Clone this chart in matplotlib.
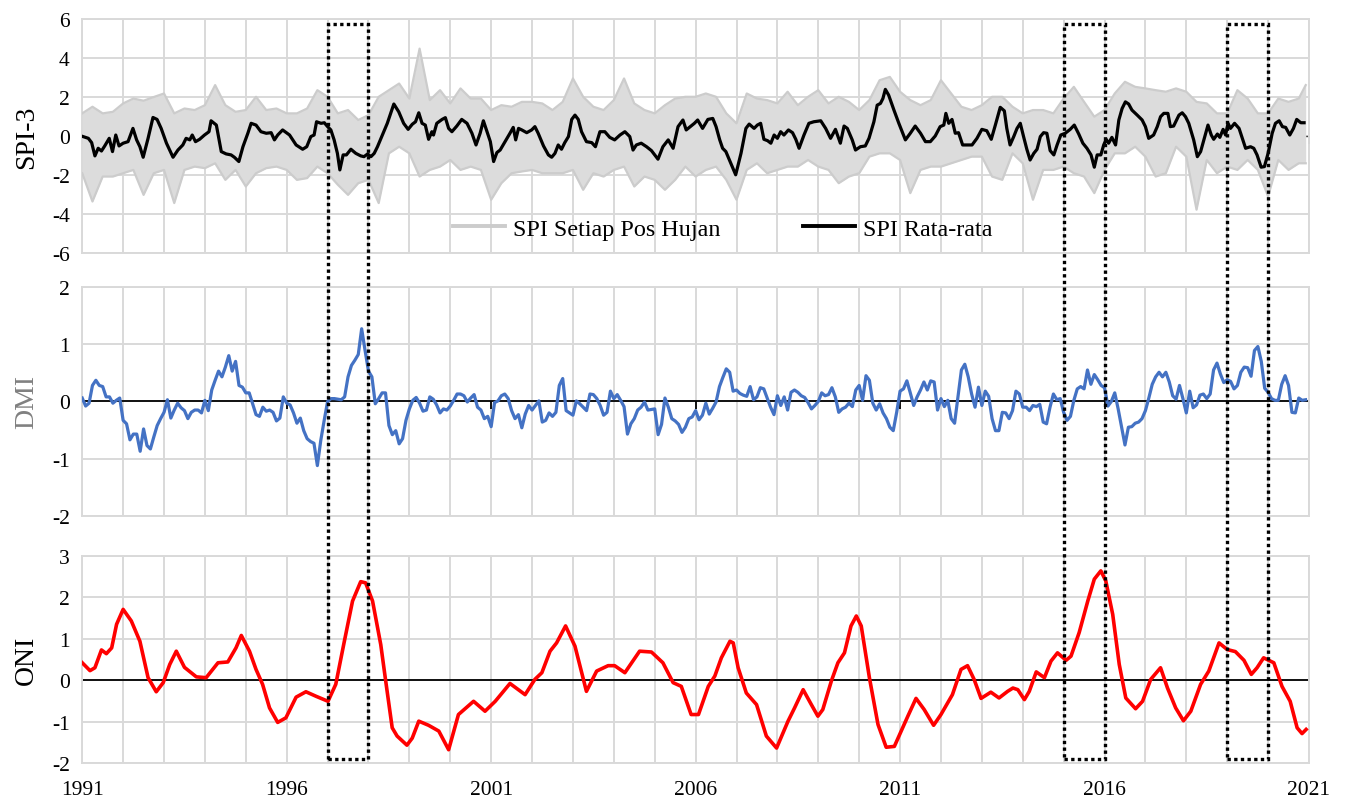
import matplotlib
matplotlib.use("Agg")
import matplotlib.pyplot as plt
import numpy as np
from matplotlib.patches import Rectangle

plt.rcParams['font.family'] = ['Liberation Serif', 'DejaVu Serif']
plt.rcParams['axes.unicode_minus'] = False

# ---- SPI-3 : range of the station series (read as upper / lower edge, quarterly) ----
spi_env_year = list(np.arange(1991, 2021, 0.25)) + [2020.92]
spi_station_hi = [
    1.16, 1.50, 1.16, 1.24, 1.67, 1.92, 1.81, 2.00, 2.18, 1.16, 1.41, 1.33, 1.58, 2.61, 1.58,
    1.24, 1.33, 2.01, 1.33, 1.41, 1.16, 1.16, 1.41, 2.35, 2.01, 1.16, 1.33, 0.82, 1.07,
    2.01, 2.35, 2.69, 1.92, 4.48, 1.84, 2.35, 1.67, 2.44, 1.92, 1.92, 1.33, 1.58, 1.50, 1.75,
    1.75, 1.67, 1.33, 1.75, 2.95, 2.01, 1.50, 1.33, 1.84, 2.95, 1.67, 1.33, 1.16, 1.58, 1.92, 2.01,
    2.01, 2.18, 2.01, 1.16, 0.65, 2.18, 1.92, 1.84, 1.67, 2.27, 1.58, 2.01, 2.35, 1.67, 2.01,
    1.75, 1.33, 1.84, 2.86, 3.03, 2.27, 1.84, 1.58, 1.84, 2.86, 2.18, 1.50, 1.33, 1.58, 2.01,
    2.01, 1.50, 1.16, 1.33, 1.33, 1.16, 1.92, 2.52, 1.75, 0.99, 1.33, 2.18, 2.78, 2.52, 2.44,
    2.35, 2.27, 2.44, 2.27, 1.75, 1.67, 1.16, 1.16, 2.35, 1.92, 1.16, 1.16, 1.92, 1.75, 1.92,
    2.61]
spi_station_lo = [
    -1.91, -3.36, -2.08, -2.08, -1.91, -1.74, -3.02, -1.91, -1.74, -3.44, -1.74, -1.57, -1.65, -1.40, -2.25,
    -1.74, -2.59, -1.91, -1.65, -1.57, -1.74, -2.25, -2.16, -1.57, -1.91, -2.50, -3.02, -2.42, -2.25,
    -3.44, -0.89, -0.55, -0.89, -2.08, -1.74, -1.57, -1.23, -1.74, -1.57, -1.74, -3.27, -2.42, -1.91, -1.82,
    -1.74, -1.91, -1.91, -1.91, -1.74, -2.76, -1.91, -2.08, -1.74, -1.57, -2.59, -2.08, -2.25, -2.76, -2.25, -1.57,
    -2.08, -1.74, -1.57, -2.25, -3.27, -1.74, -1.40, -1.91, -1.74, -1.57, -1.57, -1.23, -1.57, -1.74, -2.42,
    -2.08, -1.91, -1.06, -0.89, -0.89, -1.23, -2.93, -1.74, -1.57, -1.57, -1.40, -1.23, -1.06, -1.06, -2.08,
    -2.25, -0.89, -1.40, -3.27, -1.74, -1.74, -1.57, -1.91, -2.08, -2.93, -1.74, -0.89, -0.89, -0.55, -1.06,
    -2.08, -1.91, -0.55, -1.06, -3.78, -1.23, -1.91, -1.57, -1.74, -1.23, -1.74, -3.10, -1.23, -1.74, -1.40,
    -1.40]

# ---- SPI-3 : average of all stations ----
spi_mean_year = [
    1991.02, 1991.15, 1991.23, 1991.31, 1991.39, 1991.47, 1991.55, 1991.66, 1991.74, 1991.82, 1991.90,
    1992.00, 1992.12, 1992.24, 1992.33, 1992.41, 1992.49, 1992.61, 1992.73, 1992.83, 1992.93,
    1993.06, 1993.22, 1993.34, 1993.46, 1993.54, 1993.63, 1993.69, 1993.77, 1993.87, 1993.99,
    1994.10, 1994.15, 1994.28, 1994.40, 1994.52, 1994.64, 1994.72, 1994.83, 1994.93,
    1995.05, 1995.13, 1995.25, 1995.37, 1995.50, 1995.62, 1995.70, 1995.78, 1995.90,
    1996.07, 1996.23, 1996.39, 1996.49, 1996.59, 1996.67, 1996.73, 1996.84, 1996.92,
    1997.00, 1997.08, 1997.16, 1997.24, 1997.30, 1997.38, 1997.46, 1997.57, 1997.69, 1997.81, 1997.89, 1997.98,
    1998.06, 1998.14, 1998.22, 1998.33, 1998.46, 1998.62, 1998.74, 1998.86, 1998.97,
    1999.07, 1999.15, 1999.23, 1999.31, 1999.39, 1999.47, 1999.55, 1999.59, 1999.67, 1999.80, 1999.88, 1999.96,
    2000.04, 2000.16, 2000.28, 2000.41, 2000.53, 2000.63, 2000.73, 2000.81, 2000.89, 2000.98,
    2001.06, 2001.14, 2001.22, 2001.34, 2001.46, 2001.54, 2001.60, 2001.67, 2001.75, 2001.87, 2001.99,
    2002.07, 2002.15, 2002.28, 2002.40, 2002.48, 2002.56, 2002.64, 2002.72, 2002.80, 2002.89, 2002.97,
    2003.05, 2003.13, 2003.21, 2003.33, 2003.46, 2003.55, 2003.66, 2003.78, 2003.90,
    2004.02, 2004.15, 2004.27, 2004.39, 2004.47, 2004.55, 2004.67, 2004.80, 2004.92,
    2005.08, 2005.20, 2005.33, 2005.45, 2005.57, 2005.69, 2005.77, 2005.97,
    2006.05, 2006.17, 2006.30, 2006.42, 2006.50, 2006.59, 2006.66, 2006.74, 2006.86, 2006.98,
    2007.11, 2007.23, 2007.31, 2007.43, 2007.51, 2007.59, 2007.67, 2007.76, 2007.84, 2007.92,
    2008.00, 2008.08, 2008.16, 2008.27, 2008.37, 2008.45, 2008.53, 2008.65, 2008.77, 2008.89,
    2009.06, 2009.18, 2009.30, 2009.42, 2009.54, 2009.63, 2009.71, 2009.83, 2009.91,
    2010.03, 2010.15, 2010.24, 2010.36, 2010.44, 2010.52, 2010.58, 2010.64, 2010.72, 2010.85, 2010.97,
    2011.13, 2011.25, 2011.37, 2011.50, 2011.62, 2011.74, 2011.86, 2011.98,
    2012.07, 2012.12, 2012.19, 2012.27, 2012.35, 2012.43, 2012.53, 2012.63, 2012.76, 2012.88,
    2013.00, 2013.12, 2013.23, 2013.33, 2013.45, 2013.55, 2013.61, 2013.69, 2013.78, 2013.86, 2013.94,
    2014.02, 2014.10, 2014.18, 2014.27, 2014.35, 2014.43, 2014.51, 2014.59, 2014.67, 2014.76, 2014.84, 2014.93,
    2015.04, 2015.16, 2015.26, 2015.37, 2015.47, 2015.57, 2015.67, 2015.75, 2015.82, 2015.91, 2015.98,
    2016.04, 2016.10, 2016.18, 2016.27, 2016.35, 2016.43, 2016.51, 2016.59, 2016.67, 2016.80, 2016.92,
    2017.00, 2017.08, 2017.20, 2017.29, 2017.37, 2017.45, 2017.55, 2017.61, 2017.69, 2017.82, 2017.90, 2017.98,
    2018.06, 2018.18, 2018.27, 2018.35, 2018.43, 2018.53, 2018.61, 2018.67, 2018.76, 2018.82, 2018.90, 2018.96,
    2019.02, 2019.08, 2019.18, 2019.29, 2019.37, 2019.45, 2019.57, 2019.65, 2019.73, 2019.83, 2019.91,
    2020.00, 2020.10, 2020.18, 2020.27, 2020.35, 2020.43, 2020.53, 2020.62, 2020.70, 2020.80, 2020.88]
spi_mean = [
    -0.03, -0.12, -0.34, -1.02, -0.63, -0.77, -0.51, -0.12, -0.80, 0.05, -0.51,
    -0.37, -0.29, 0.39, -0.20, -0.55, -1.09, -0.12, 0.95, 0.85, 0.39,
    -0.37, -1.09, -0.72, -0.46, -0.12, -0.20, 0.05, -0.29, -0.17, 0.05,
    0.22, 0.78, 0.56, -0.80, -0.92, -0.97, -1.09, -1.31, -0.55,
    0.14, 0.65, 0.56, 0.22, 0.14, 0.17, -0.20, 0.05, 0.31,
    0.05, -0.46, -0.68, -0.55, -0.03, 0.05, 0.73, 0.65, 0.68,
    0.48, 0.31, -0.20, -0.89, -1.74, -0.97, -0.97, -0.68, -0.89, -1.02, -1.06, -0.92,
    -1.06, -0.89, -0.55, 0.00, 0.65, 1.64, 1.24, 0.65, 0.34,
    0.60, 0.73, 1.19, 0.65, 0.56, -0.17, 0.22, 0.05, 0.65, 0.85, 0.94, 0.39,
    0.22, 0.51, 0.85, 0.65, 0.14, -0.46, 0.14, 0.78, 0.27, -0.29,
    -1.31, -0.85, -0.72, -0.29, 0.14, 0.44, -0.20, 0.39, 0.31, 0.17, 0.31,
    0.48, 0.14, -0.51, -0.97, -1.09, -0.89, -0.46, -0.68, -0.34, -0.03, 0.85,
    1.07, 0.85, 0.22, -0.29, -0.34, -0.55, 0.22, 0.22, -0.07,
    -0.20, 0.05, 0.22, -0.03, -0.72, -0.46, -0.37, -0.55, -0.75,
    -1.19, -0.55, -0.20, -0.63, 0.48, 0.82, 0.31, 0.65,
    0.82, 0.39, 0.85, 0.90, 0.48, -0.20, -0.63, -0.80, -1.40, -1.99,
    -0.89, 0.39, 0.61, 0.39, 0.56, 0.65, -0.17, -0.24, -0.37, 0.05,
    -0.12, 0.22, 0.05, 0.31, 0.17, -0.17, -0.63, 0.05, 0.65, 0.73,
    0.78, 0.39, -0.12, 0.34, -0.37, 0.51, 0.39, -0.20, -0.72,
    -0.55, -0.51, -0.12, 0.73, 1.58, 1.67, 1.92, 2.39, 2.10, 1.33, 0.65,
    -0.20, 0.14, 0.51, 0.14, -0.29, -0.29, 0.00, 0.48,
    0.56, 1.16, 0.65, 0.85, 0.14, 0.17, -0.46, -0.46, -0.46, -0.12,
    0.34, 0.27, -0.17, 0.56, 1.47, 1.29, 0.39, -0.46, -0.03, 0.39, 0.65,
    -0.03, -0.68, -1.23, -0.89, -0.68, -0.03, 0.17, 0.14, -0.75, -0.97, -0.46, 0.05,
    0.14, 0.34, 0.56, 0.10, -0.37, -0.63, -0.97, -1.60, -0.97, -0.97, -0.46,
    -0.17, -0.37, -0.07, -0.46, 0.82, 1.41, 1.75, 1.64, 1.33, 1.07, 0.82,
    0.48, -0.12, 0.05, 0.48, 0.99, 1.16, 1.16, 0.48, 0.51, 1.07, 1.19, 0.99,
    0.65, -0.20, -1.06, -0.80, -0.20, 0.56, 0.05, -0.17, 0.10, -0.07, 0.34, 0.05,
    0.65, 0.39, 0.65, 0.39, -0.12, -0.63, -0.55, -0.63, -0.97, -1.60, -1.57,
    -0.89, 0.14, 0.65, 0.78, 0.48, 0.44, 0.05, 0.39, 0.85, 0.68, 0.68]

# ---- DMI, monthly Jan 1991 - Dec 2020 ----
dmi = [
    0.06, -0.08, -0.03, 0.28, 0.37, 0.28, 0.26, 0.08, 0.08, -0.03, 0.02, 0.06,        # 1991
    -0.33, -0.39, -0.67, -0.57, -0.57, -0.87, -0.48, -0.77, -0.83, -0.62, -0.42, -0.30,  # 1992
    -0.19, 0.03, -0.29, -0.15, -0.03, -0.11, -0.16, -0.30, -0.19, -0.15, -0.15, -0.20,  # 1993
    0.02, -0.16, 0.20, 0.37, 0.53, 0.43, 0.60, 0.80, 0.53, 0.70, 0.28, 0.25,          # 1994
    0.15, 0.15, -0.04, -0.23, -0.26, -0.10, -0.17, -0.15, -0.19, -0.34, -0.29, 0.08,  # 1995
    -0.03, -0.06, -0.20, -0.38, -0.29, -0.51, -0.65, -0.70, -0.73, -1.12, -0.68, -0.33,  # 1996
    0.00, 0.05, 0.05, 0.04, 0.03, 0.08, 0.43, 0.63, 0.72, 0.82, 1.27, 0.89,           # 1997
    0.53, 0.43, -0.04, 0.05, 0.15, 0.15, -0.42, -0.58, -0.51, -0.74, -0.65, -0.33,    # 1998
    -0.13, 0.02, 0.07, -0.03, -0.17, -0.15, 0.08, 0.04, -0.06, -0.20, -0.13, -0.15,   # 1999
    -0.08, 0.02, 0.13, 0.13, 0.10, -0.01, 0.06, 0.12, -0.10, -0.15, -0.30, -0.26,     # 2000
    -0.44, -0.02, 0.01, 0.10, 0.13, 0.05, -0.16, -0.30, -0.23, -0.46, -0.22, -0.07,   # 2001
    -0.15, -0.07, 0.01, -0.36, -0.33, -0.20, -0.26, -0.19, 0.28, 0.40, -0.16, -0.20,  # 2002
    -0.24, 0.01, -0.04, -0.10, -0.16, 0.13, 0.12, 0.05, -0.07, -0.24, -0.19, 0.18,    # 2003
    0.05, 0.12, 0.02, -0.09, -0.57, -0.39, -0.30, -0.15, -0.10, -0.01, -0.15, -0.14,  # 2004
    -0.13, -0.58, -0.40, 0.06, -0.10, -0.30, -0.34, -0.40, -0.54, -0.45, -0.30, -0.27,  # 2005
    -0.16, -0.32, -0.24, -0.03, -0.22, -0.12, -0.01, 0.26, 0.42, 0.57, 0.51, 0.18,    # 2006
    0.20, 0.14, 0.11, 0.09, 0.26, 0.03, 0.08, 0.24, 0.22, 0.06, -0.10, -0.23,         # 2007
    0.10, -0.07, 0.08, -0.15, 0.16, 0.20, 0.16, 0.10, 0.07, -0.02, -0.13, -0.07,      # 2008
    0.00, 0.15, 0.10, 0.12, 0.24, 0.08, -0.19, -0.13, -0.10, -0.03, -0.09, 0.20,      # 2009
    0.28, 0.02, 0.45, 0.37, -0.03, -0.15, -0.04, -0.20, -0.30, -0.45, -0.51, -0.19,   # 2010
    0.18, 0.22, 0.36, 0.15, -0.07, 0.08, 0.20, 0.34, 0.20, 0.36, 0.34, -0.15,         # 2011
    0.05, -0.09, 0.02, -0.30, -0.38, 0.08, 0.55, 0.65, 0.43, 0.13, -0.10, 0.25,       # 2012
    -0.07, 0.18, 0.09, -0.30, -0.51, -0.51, -0.19, -0.20, -0.30, -0.16, 0.18, 0.13,   # 2013
    -0.10, -0.10, -0.16, -0.07, -0.09, -0.05, -0.36, -0.39, -0.10, 0.13, 0.03, 0.05,  # 2014
    -0.19, -0.33, -0.26, 0.02, 0.22, 0.26, 0.22, 0.55, 0.30, 0.47, 0.38, 0.28,        # 2015
    0.24, -0.08, 0.00, 0.15, -0.13, -0.45, -0.76, -0.45, -0.44, -0.38, -0.36, -0.30,  # 2016
    -0.16, 0.06, 0.30, 0.43, 0.51, 0.43, 0.51, 0.34, 0.10, 0.04, 0.28, 0.05,          # 2017
    -0.20, 0.18, -0.11, -0.06, 0.11, 0.13, 0.05, 0.13, 0.55, 0.67, 0.48, 0.33,        # 2018
    0.38, 0.35, 0.22, 0.28, 0.51, 0.60, 0.59, 0.44, 0.89, 0.96, 0.70, 0.23,           # 2019
    0.16, 0.05, 0.02, 0.02, 0.30, 0.45, 0.28, -0.19, -0.20, 0.06, 0.02, 0.03,         # 2020
]

# ---- ONI ----
oni_year = [
    1991.00, 1991.19, 1991.31, 1991.47, 1991.59, 1991.72, 1991.84, 1992.00, 1992.20, 1992.41,
    1992.61, 1992.81, 1992.98, 1993.14, 1993.30, 1993.50, 1993.79, 1994.03, 1994.32, 1994.56,
    1994.76, 1994.89, 1995.09, 1995.25, 1995.41, 1995.58, 1995.78, 1995.98, 1996.23, 1996.47,
    1996.72, 1997.01, 1997.20, 1997.41, 1997.61, 1997.81, 1997.93, 1998.10, 1998.30, 1998.41,
    1998.58, 1998.70, 1998.94, 1999.07, 1999.23, 1999.47, 1999.72, 1999.96, 2000.20, 2000.57,
    2000.85, 2001.10, 2001.46, 2001.83, 2002.07, 2002.24, 2002.44, 2002.60, 2002.82, 2003.05,
    2003.33, 2003.58, 2003.86, 2004.02, 2004.27, 2004.63, 2004.92, 2005.20, 2005.45, 2005.65,
    2005.89, 2006.07, 2006.31, 2006.47, 2006.63, 2006.84, 2006.92, 2007.04, 2007.24, 2007.49,
    2007.73, 2007.98, 2008.26, 2008.42, 2008.63, 2008.83, 2008.99, 2009.11, 2009.32, 2009.48,
    2009.64, 2009.80, 2009.93, 2010.05, 2010.25, 2010.46, 2010.66, 2010.86, 2011.19, 2011.39,
    2011.59, 2011.82, 2012.00, 2012.28, 2012.49, 2012.65, 2012.81, 2012.98, 2013.22, 2013.42,
    2013.63, 2013.76, 2013.88, 2014.04, 2014.16, 2014.33, 2014.53, 2014.69, 2014.85, 2015.06,
    2015.18, 2015.38, 2015.59, 2015.75, 2015.91, 2016.03, 2016.20, 2016.36, 2016.52, 2016.76,
    2016.93, 2017.13, 2017.37, 2017.54, 2017.74, 2017.93, 2018.11, 2018.35, 2018.55, 2018.80,
    2019.00, 2019.20, 2019.41, 2019.59, 2019.73, 2019.89, 2020.14, 2020.34, 2020.54, 2020.71,
    2020.83, 2020.93]
oni = [
    0.42, 0.23, 0.30, 0.73, 0.64, 0.78, 1.35, 1.71, 1.43, 0.94,
    0.06, -0.28, -0.06, 0.38, 0.70, 0.31, 0.08, 0.06, 0.42, 0.44,
    0.78, 1.08, 0.70, 0.26, -0.10, -0.67, -1.02, -0.91, -0.41, -0.28,
    -0.39, -0.51, -0.10, 0.94, 1.91, 2.38, 2.35, 1.91, 0.86, 0.06,
    -1.15, -1.35, -1.57, -1.40, -0.99, -1.09, -1.23, -1.68, -0.83, -0.51,
    -0.75, -0.51, -0.08, -0.35, 0.02, 0.18, 0.70, 0.90, 1.31, 0.82,
    -0.27, 0.22, 0.35, 0.35, 0.18, 0.70, 0.68, 0.42, -0.06, -0.15,
    -0.83, -0.83, -0.15, 0.10, 0.54, 0.94, 0.90, 0.30, -0.31, -0.59,
    -1.35, -1.64, -0.99, -0.67, -0.23, -0.59, -0.87, -0.71, -0.02, 0.42,
    0.66, 1.31, 1.55, 1.31, 0.06, -1.07, -1.62, -1.60, -0.87, -0.44,
    -0.71, -1.09, -0.83, -0.35, 0.26, 0.35, 0.02, -0.44, -0.29, -0.43,
    -0.27, -0.19, -0.23, -0.47, -0.27, 0.20, 0.06, 0.46, 0.66, 0.48,
    0.58, 1.15, 1.91, 2.44, 2.64, 2.40, 1.59, 0.38, -0.43, -0.69,
    -0.51, 0.02, 0.30, -0.19, -0.67, -0.98, -0.75, -0.10, 0.22, 0.90,
    0.74, 0.69, 0.48, 0.14, 0.30, 0.54, 0.42, -0.15, -0.51, -1.15,
    -1.29, -1.19]

# strong ENSO / IOD years highlighted with dotted boxes
box_years = [(1997, 1998), (2015, 2016), (2019, 2020)]

year_ticks = [1991, 1996, 2001, 2006, 2011, 2016, 2021]

GRID = '#d9d9d9'
FS = 15.5
LABEL_FS = 20

fig = plt.figure(figsize=(13.46, 8.03), dpi=100)
ax1 = fig.add_axes([0.0611, 0.6837, 0.9114, 0.2914])
ax2 = fig.add_axes([0.0611, 0.3562, 0.9114, 0.2852])
ax3 = fig.add_axes([0.0611, 0.0486, 0.9114, 0.2578])


def style_axis(ax, ylim, yticks, ylabel, label_color='black', show_x=False):
    ax.set_xlim(1991, 2021)
    ax.set_ylim(*ylim)
    ax.set_yticks(yticks)
    ax.set_yticklabels([str(t) for t in yticks])
    ax.set_xticks(year_ticks)
    ax.set_xticks(range(1991, 2022), minor=True)
    if show_x:
        ax.set_xticklabels([str(t) for t in year_ticks])
    else:
        ax.set_xticklabels([])
    ax.grid(True, which='both', color=GRID, lw=1.4, zorder=0)
    ax.set_axisbelow(True)
    ax.tick_params(which='both', length=0, labelsize=FS, pad=9)
    ax.tick_params(axis='x', pad=12)
    for s in ax.spines.values():
        s.set_color(GRID)
        s.set_linewidth(1.4)
    ax.set_ylabel(ylabel, fontsize=LABEL_FS, color=label_color)
    ax.yaxis.set_label_coords(-0.035, 0.5)


# top: SPI-3
x_env = np.array(spi_env_year)
ax1.axhline(0, color='#404040', lw=1.0, zorder=1)
ax1.fill_between(x_env, spi_station_lo, spi_station_hi, color='#dcdcdc', lw=0, zorder=2)
ax1.plot(x_env, spi_station_hi, color='#cccccc', lw=1.6, zorder=3, label='SPI Setiap Pos Hujan')
ax1.plot(x_env, spi_station_lo, color='#cccccc', lw=1.6, zorder=3)
ax1.plot(spi_mean_year, spi_mean, color='black', lw=2.3, zorder=4, label='SPI Rata-rata')
ax1.plot(year_ticks, [0] * len(year_ticks), ls='none', marker=3, ms=6, mew=1.2, color='#404040', zorder=1)
style_axis(ax1, (-6, 6), list(range(-6, 7, 2)), 'SPI-3')
leg = ax1.legend(loc='center', bbox_to_anchor=(0.522, 0.103), ncol=2, frameon=False,
                 fontsize=17.4, handlelength=2.15, columnspacing=3.4, handletextpad=0.35)
for h in leg.get_lines():
    h.set_linewidth(2.8)

# middle: DMI
x_month = 1991 + np.arange(len(dmi)) / 12.0
ax2.axhline(0, color='black', lw=1.3, zorder=2)
ax2.plot(year_ticks, [0] * len(year_ticks), ls='none', marker=3, ms=6, mew=1.3, color='black', zorder=2)
ax2.plot(x_month, dmi, color='#4472C4', lw=2.3, zorder=3)
style_axis(ax2, (-2, 2), [-2, -1, 0, 1, 2], 'DMI', label_color='#808080')

# bottom: ONI
ax3.axhline(0, color='black', lw=1.3, zorder=2)
ax3.plot(oni_year, oni, color='#FF0000', lw=2.6, zorder=3)
style_axis(ax3, (-2, 3), [-2, -1, 0, 1, 2, 3], 'ONI', show_x=True)

# dotted boxes spanning the three panels
to_fig = fig.transFigure.inverted()
for x0, x1 in box_years:
    xa, ya = to_fig.transform(ax1.transData.transform((x0, 5.75)))
    xb, yb = to_fig.transform(ax3.transData.transform((x1, -1.9)))
    fig.add_artist(Rectangle((xa, yb), xb - xa, ya - yb, transform=fig.transFigure,
                             fill=False, ec='black', lw=2.4, ls=(0, (1, 1)), zorder=10))

fig.savefig('out.png', dpi=100)
